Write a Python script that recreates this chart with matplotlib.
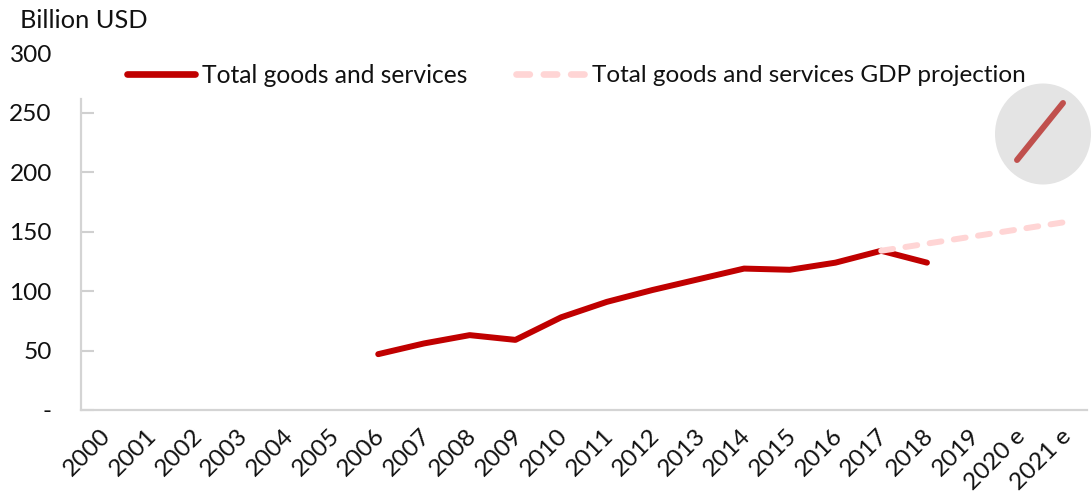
import matplotlib
matplotlib.use("Agg")
import matplotlib.pyplot as plt
from matplotlib.patches import Ellipse
from matplotlib.lines import Line2D
from matplotlib.transforms import ScaledTranslation

plt.rcParams["font.family"] = ["Lato", "DejaVu Sans"]

# chart data
years = ["2000", "2001", "2002", "2003", "2004", "2005", "2006", "2007", "2008", "2009", "2010",
         "2011", "2012", "2013", "2014", "2015", "2016", "2017", "2018", "2019", "2020 e", "2021 e"]
actual_years = ["2006", "2007", "2008", "2009", "2010", "2011", "2012", "2013", "2014", "2015",
                "2016", "2017", "2018"]
actual_vals = [47, 56, 63, 59, 78, 91, 101, 110, 119, 118, 124, 134, 124]
proj_years = ["2017", "2018", "2019", "2020 e", "2021 e"]
proj_vals = [134, 140, 146, 152, 158]
y_ticks = [0, 50, 100, 150, 200, 250, 300]
y_labels = ["-", "50", "100", "150", "200", "250", "300"]

W, H = 1091, 494
FS = 17.6
DASH = (2, 2.1)
fig = plt.figure(figsize=(W / 100, H / 100), dpi=100)

left, right, top, bottom = 81, 1087, 53.5, 410
ax = fig.add_axes([left / W, 1 - bottom / H, (right - left) / W, (bottom - top) / H])
ax.patch.set_alpha(0)

xpos = {y: i for i, y in enumerate(years)}
ax.plot([xpos[y] for y in actual_years], actual_vals, color="#c00000", lw=4.3,
        solid_capstyle="round", solid_joinstyle="round", zorder=3)
ax.plot([xpos[y] for y in proj_years], proj_vals, color="#ffd5d5", lw=4.3,
        dashes=DASH, dash_capstyle="round", zorder=4)

ax.set_xlim(-0.5, len(years) - 0.5)
ax.set_ylim(0, 300)
ax.set_xticks(range(len(years)))
ax.set_xticklabels(years, rotation=45, ha="right", rotation_mode="anchor", fontsize=FS, color="#111111")
ax.set_yticks(y_ticks)
ax.set_yticklabels(y_labels, fontsize=FS, color="#111111")
ax.tick_params(axis="x", length=0, pad=11)
ax.tick_params(axis="y", length=9, width=1.5, direction="in", color="#d0d0d0", pad=21)
ax.yaxis.get_major_ticks()[-1].tick1line.set_visible(False)

# nudge the year labels a little to the left
shift = ScaledTranslation(-4 / 100, 0, fig.dpi_scale_trans)
for lab in ax.get_xticklabels():
    lab.set_transform(lab.get_transform() + shift)

for s in ("top", "right"):
    ax.spines[s].set_visible(False)
for s in ("left", "bottom"):
    ax.spines[s].set_color("#d4d4d4")
    ax.spines[s].set_linewidth(1.6)
ax.spines["left"].set_bounds(0, 262)

# legend, laid out by hand so the two entries sit on one row
fig.add_artist(Line2D([127 / W, 195 / W], [1 - 74 / H] * 2, color="#c00000", lw=4.8, solid_capstyle="round"))
fig.text(202 / W, 1 - 75 / H, "Total goods and services", fontsize=17.7, va="center", color="#111111")
fig.add_artist(Line2D([516 / W, 584 / W], [1 - 74 / H] * 2, color="#ffd5d5", lw=4.8,
                      dashes=DASH, dash_capstyle="round"))
fig.text(592 / W, 1 - 75 / H, "Total goods and services GDP projection", fontsize=17.5, va="center", color="#111111")

fig.text(20 / W, 1 - 21 / H, "Billion USD", fontsize=18.3, va="center", color="#111111")

# growth icon in the upper right corner
fig.add_artist(Ellipse((1043 / W, 1 - 134 / H), 96 / W, 101 / H, transform=fig.transFigure,
                       facecolor="#e4e4e4", edgecolor="none"))
fig.add_artist(Line2D([1017 / W, 1063 / W], [1 - 160 / H, 1 - 103 / H], color="#c0504d", lw=4.3,
                      solid_capstyle="round"))

fig.savefig("out.png", dpi=100)
